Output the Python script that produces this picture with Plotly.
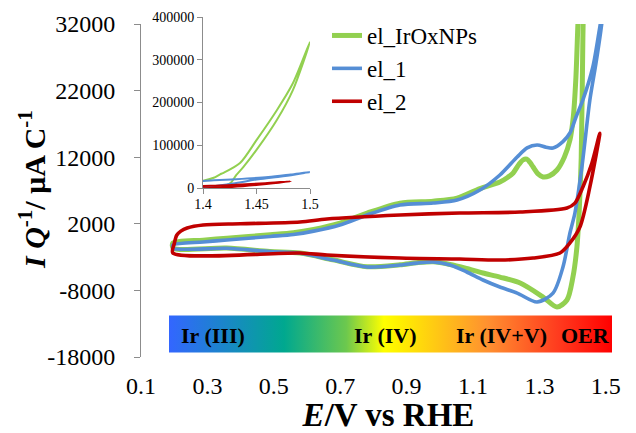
import plotly.graph_objects as go

# ---------------- data ----------------
series_names = ["el_IrOxNPs", "el_1", "el_2"]
series_colors = ["#92D050", "#558ED5", "#C00000"]

# el_IrOxNPs : anodic sweep then cathodic sweep
green_E = [0.196, 0.287, 0.359, 0.489, 0.559, 0.62, 0.699, 0.781, 0.88, 0.98, 1.052, 1.121,
           1.181, 1.205, 1.221, 1.238, 1.251, 1.262, 1.272, 1.281, 1.296, 1.311, 1.33, 1.353,
           1.375, 1.392, 1.402, 1.41, 1.416, 1.4187, 1.4346, 1.45, 1.469, 1.484, 1.5,
           1.484, 1.469, 1.45, 1.438, 1.431, 1.426, 1.42, 1.413, 1.401, 1.383, 1.353, 1.311,
           1.242, 1.181, 1.13, 1.08, 1.031, 0.98, 0.93, 0.88, 0.781, 0.678, 0.579, 0.488,
           0.358, 0.197, 0.196]
green_I = [-900, -450, -150, 350, 650, 1150, 2100, 3600, 5100, 5400, 5850, 7300,
           8280, 9000, 9630, 10900, 11600, 11700, 11200, 10530, 9500, 9030, 9200, 10080,
           12000, 14580, 18000, 24000, 32000, 35000, 58500, 112000, 182000, 245000, 342000,
           229000, 159000, 89000, 50000, 30000, 12000, 4000, -1500, -6000, -9440, -10500, -9000,
           -6900, -6000, -5390, -4700, -4100, -3700, -3850, -4150, -4450, -3400, -2400, -2150,
           -1650, -1650, -900]

# el_1
blue_E = [0.196, 0.287, 0.359, 0.489, 0.559, 0.62, 0.699, 0.781, 0.88, 0.98, 1.052, 1.121,
          1.181, 1.233, 1.263, 1.293, 1.32, 1.341, 1.37, 1.392, 1.41, 1.431, 1.461, 1.482, 1.5,
          1.485, 1.47, 1.452, 1.428, 1.407, 1.392, 1.371, 1.341, 1.293, 1.233, 1.181, 1.13,
          1.08, 1.031, 0.98, 0.93, 0.88, 0.781, 0.678, 0.579, 0.488, 0.358, 0.197, 0.196]
blue_I = [-1180, -730, -430, 100, 400, 900, 1820, 3320, 4820, 5120, 5570, 7070,
          9330, 12030, 13400, 13830, 13500, 13380, 14300, 15630, 18000, 20600, 25540, 31550, 37000,
          31000, 26000, 20590, 10530, 3620, 620, -4490, -8400, -9740, -8400, -7490, -6440,
          -5200, -4190, -3740, -3900, -4190, -4490, -3440, -2430, -2180, -1680, -1680, -1180]

# el_2
red_E = [0.196, 0.2, 0.208, 0.22, 0.239, 0.287, 0.4, 0.579, 0.66, 0.88, 1.06, 1.242, 1.383,
         1.407, 1.431, 1.458, 1.482,
         1.452, 1.422, 1.392, 1.362, 1.281, 1.181, 1.06, 0.88, 0.66, 0.579, 0.196]
red_I = [-2390, -1000, 318, 900, 1370, 1820, 2000, 2270, 2720, 3320, 3620, 3770, 4370,
         5100, 7530, 11100, 15600,
         7530, 1520, -880, -2380, -3140, -3440, -3290, -3140, -2680, -2380, -2390]

x_tickvals = [0.1, 0.3, 0.5, 0.7, 0.9, 1.1, 1.3, 1.5]
x_ticktext = ["0.1", "0.3", "0.5", "0.7", "0.9", "1.1", "1.3", "1.5"]
y_tickvals = [-18000, -8000, 2000, 12000, 22000, 32000]
y_ticktext = ["-18000", "-8000", "2000", "12000", "22000", "32000"]

inset_x_tickvals = [1.4, 1.45, 1.5]
inset_x_ticktext = ["1.4", "1.45", "1.5"]
inset_y_tickvals = [0, 100000, 200000, 300000, 400000]
inset_y_ticktext = ["0", "100000", "200000", "300000", "400000"]

region_labels = ["Ir (III)", "Ir (IV)", "Ir (IV+V)", "OER"]
region_label_pos = [0.145, 0.493, 0.729, 0.897]
band_colorscale = [[0.0, "#3366FF"], [0.26, "#00A88F"], [0.40, "#6CC84E"],
                   [0.485, "#FFFF00"], [0.52, "#FFF000"], [0.72, "#FF9030"],
                   [0.88, "#FF3A1E"], [1.0, "#FF0000"]]

x_title = "<b><i>E</i>/V vs RHE</b>"
y_title = "<b><i>I Q</i><sup>-1</sup>/ μA C<sup>-1</sup></b>"

# ---------------- figure ----------------
FONT = "Liberation Serif, Times New Roman, serif"
W, H = 636, 433
ML, MR, MT, MB = 141, 0, 10, 76
plot_w = W - ML - MR
plot_h = H - MT - MB
main_top = (357 - 24) / plot_h          # top of the main y domain (paper units)
x_range = [0.1, 0.1 + plot_w / 332.0]
y_range = [-18000, 32000]
zero_pos = main_top * (0 - y_range[0]) / (y_range[1] - y_range[0])

fig = go.Figure()
data = [(green_E, green_I), (blue_E, blue_I), (red_E, red_I)]
widths = [5, 3.6, 3.6]
for (E, I), name, col, w in zip(data, series_names, series_colors, widths):
    fig.add_trace(go.Scatter(x=E, y=I, mode="lines", name=name,
                             line=dict(color=col, width=w, shape="spline", smoothing=0.8),
                             xaxis="x", yaxis="y"))
for (E, I), name, col in zip(data, series_names, series_colors):
    fig.add_trace(go.Scatter(x=E, y=I, mode="lines", name=name, showlegend=False,
                             line=dict(color=col, width=2, shape="spline", smoothing=0.8),
                             xaxis="x2", yaxis="y2"))

# gradient band (colour bar)
fig.add_trace(go.Scatter(x=[None], y=[None], mode="markers", showlegend=False,
                         hoverinfo="skip",
                         marker=dict(color=[0], cmin=0, cmax=1, colorscale=band_colorscale,
                                     showscale=True,
                                     colorbar=dict(orientation="h", lenmode="pixels", len=443,
                                                   thickness=37, x=(390.5 - ML) / plot_w,
                                                   xanchor="center", y=(357 - 333.5) / plot_h,
                                                   yanchor="middle", xpad=0, ypad=0,
                                                   outlinewidth=0, ticks="",
                                                   showticklabels=False))))

for txt, xp in zip(region_labels, region_label_pos):
    fig.add_annotation(x=xp, y=(357 - 335) / plot_h, xref="paper", yref="paper",
                       xanchor="center", yanchor="middle",
                       text="<b>" + txt + "</b>", showarrow=False,
                       font=dict(family=FONT, size=22, color="black"))

# y-axis title
fig.add_annotation(x=(32 - ML) / plot_w, y=(357 - 190) / plot_h, xref="paper", yref="paper",
                   xanchor="center", yanchor="middle", textangle=-90, showarrow=False,
                   text=y_title, font=dict(family=FONT, size=30, color="black"))

axcol = "#8C8C8C"
fig.update_layout(
    template="none",
    width=W, height=H, margin=dict(l=ML, r=MR, t=MT, b=MB, autoexpand=False),
    paper_bgcolor="white", plot_bgcolor="rgba(0,0,0,0)",
    font=dict(family=FONT, color="black"),
    showlegend=True,
    legend=dict(x=(327 - ML) / plot_w, y=(357 - 14) / plot_h, xanchor="left",
                yanchor="top", bgcolor="rgba(0,0,0,0)", font=dict(family=FONT, size=23),
                itemwidth=30),
    xaxis=dict(range=x_range, domain=[0, 1], anchor="y", showline=False, showgrid=False,
               zeroline=False, tickvals=x_tickvals, ticktext=x_ticktext, ticks="",
               ticklabelstandoff=12, tickfont=dict(size=24), automargin=False,
               title=dict(text=x_title, font=dict(size=33), standoff=2)),
    yaxis=dict(range=y_range, domain=[0, main_top], anchor="x", showline=True,
               linecolor=axcol, linewidth=1, showgrid=False, zeroline=False,
               tickvals=y_tickvals, ticktext=y_ticktext, ticks="outside", ticklen=6,
               tickcolor=axcol, ticklabelstandoff=14, tickfont=dict(size=24), automargin=False),
    xaxis3=dict(range=x_range, overlaying="x", anchor="free", position=zero_pos,
                showline=True, linecolor=axcol, linewidth=1, showgrid=False, zeroline=False,
                tickvals=x_tickvals, ticks="outside", ticklen=6, tickcolor=axcol,
                showticklabels=False, automargin=False),
    xaxis2=dict(range=[1.4, 1.5], domain=[(203 - ML) / plot_w, (310 - ML) / plot_w],
                anchor="y2", showline=True, linecolor=axcol, linewidth=1, showgrid=False,
                zeroline=False, tickvals=inset_x_tickvals, ticktext=inset_x_ticktext,
                ticks="outside", ticklen=5, tickcolor=axcol, tickfont=dict(size=14),
                ticklabelstandoff=-2, automargin=False),
    yaxis2=dict(range=[0, 400000], domain=[(357 - 188) / plot_h, (357 - 17) / plot_h],
                anchor="x2", showline=True, linecolor=axcol, linewidth=1, showgrid=False,
                zeroline=False, tickvals=inset_y_tickvals, ticktext=inset_y_ticktext,
                ticks="outside", ticklen=5, tickcolor=axcol, tickfont=dict(size=14),
                automargin=False),
)

fig.write_html("out.html", config={"displayModeBar": False},
               post_script="document.body.style.margin='0';")
